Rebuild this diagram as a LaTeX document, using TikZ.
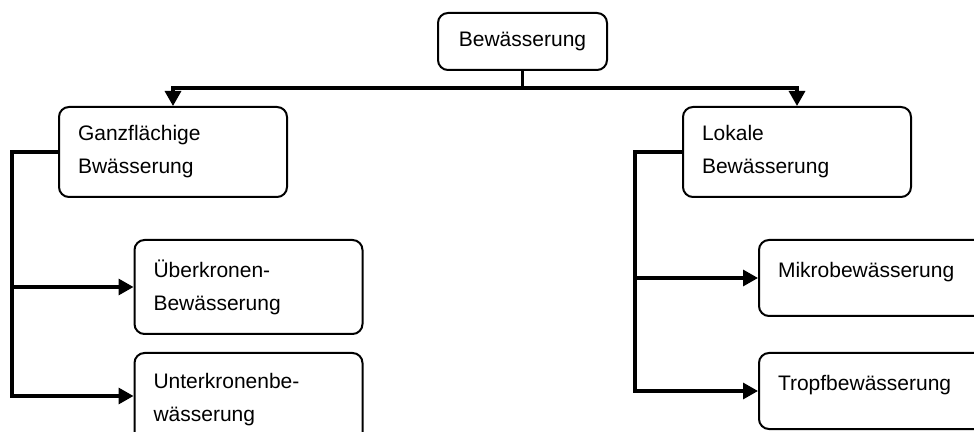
\documentclass[tikz,border=0pt]{standalone}
\usepackage{fontspec}
\setmainfont{Liberation Sans}
\usetikzlibrary{arrows.meta}

\begin{document}
\begin{tikzpicture}[x=0.5pt,y=-0.5pt]
    % Setup the styles for the boxes and the lines
        \tikzset{box style/.style={draw,
                                   rounded corners=5pt,
                                   line width=1pt,
                                   font=\fontsize{10.5}{16.5}\selectfont},
                 sub box/.style={box style,
                                 inner xsep=9.5pt,
                                 text width=95pt,
                                 align=left,
                                 minimum height=#1},
                 one line/.style={text depth=8pt},
                 line style/.style={line width=1.6pt},
                 arrow style/.style={line style,
                                     -{Triangle[length=7.5pt,width=8pt]}}}
        \useasboundingbox (0,0) rectangle (974,432);
        % Draw the boxes
        \node[box style, minimum width=84.5pt, minimum height=28.5pt]
                                   at (522.5,41.5) (bew)   {Bewässerung};
        \node[sub box=45pt]        at (173,152)    (ganz)  {Ganzflächige\\Bwässerung};
        \node[sub box=45pt]        at (797,152)    (lokal) {Lokale\\Bewässerung};
        \node[sub box=47pt]        at (248.5,287)  (ueber) {Überkronen-\\Bewässerung};
        \node[sub box=47pt]        at (248.5,400)  (unter) {Unterkronenbe-\\wässerung};
        \node[sub box=38pt, one line] at (873,278) (mikro) {Mikrobewässerung};
        \node[sub box=38pt, one line] at (873,391) (tropf) {Tropfbewässerung};
        % Branch points of the connectors
        \coordinate (split) at (522.5,88);
        \coordinate (lbus)  at (12,152);
        \coordinate (rbus)  at (635,152);
        % Connect the boxes
        \draw[line style]  (bew) -- (split);
        \draw[arrow style] (split) -| (ganz);
        \draw[arrow style] (split) -| (lokal);
        \draw[arrow style] (ganz.west) -- (lbus) |- ([yshift=2pt]unter.west);
        \draw[arrow style] (lbus) |- (ueber.west);
        \draw[arrow style] (lokal.west) -- (rbus) |- (tropf.west);
        \draw[arrow style] (rbus) |- (mikro.west);
\end{tikzpicture}
\end{document}
